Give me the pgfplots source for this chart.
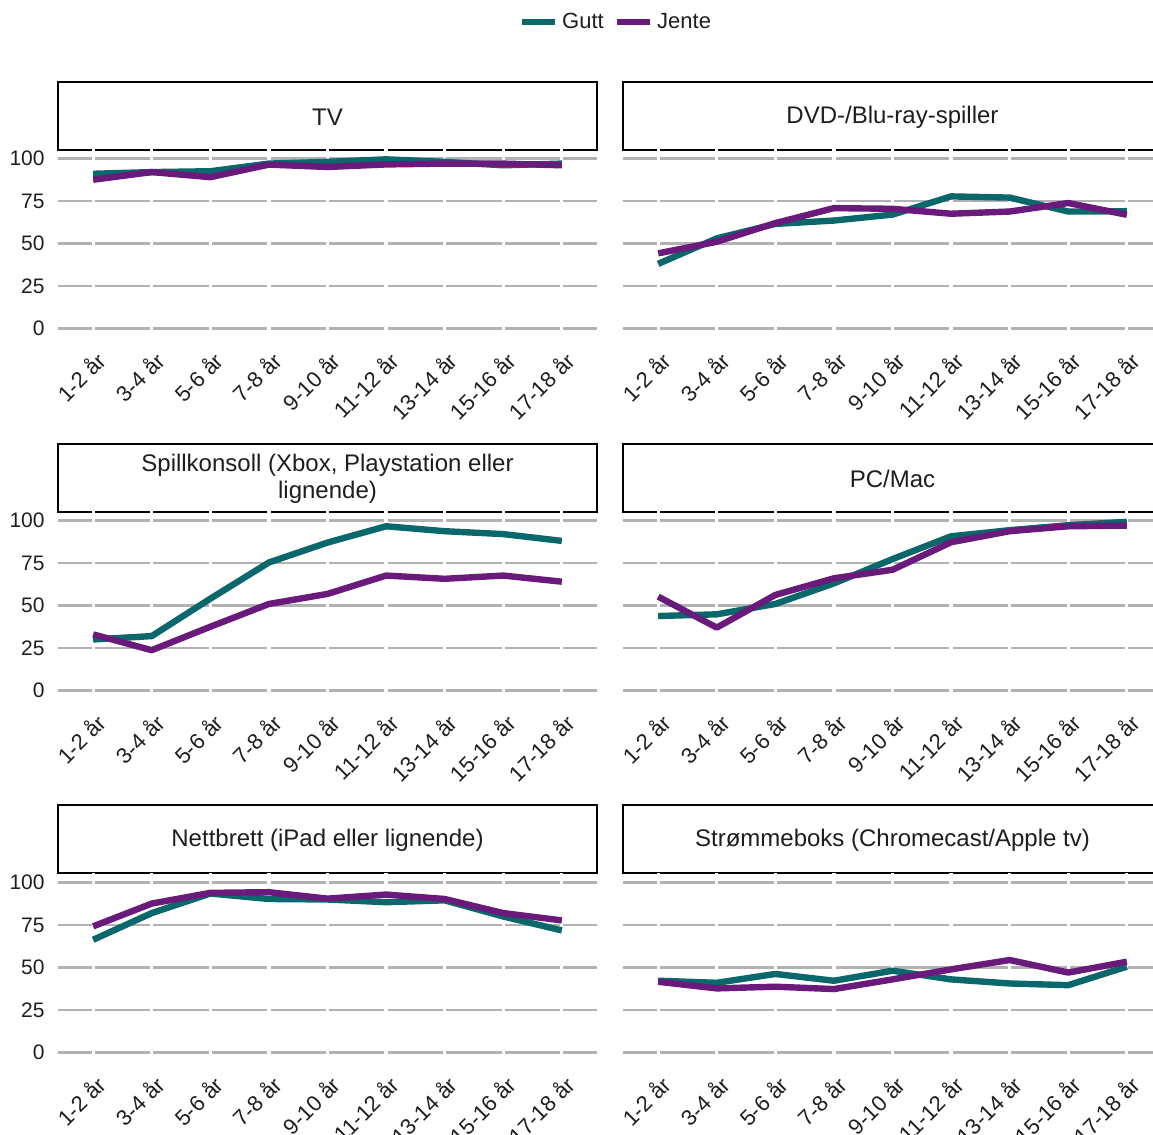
\documentclass[border=0pt]{standalone}
\usepackage{fontspec}
\setmainfont{Liberation Sans}
\usepackage{pgfplots}
\pgfplotsset{compat=1.18}
\definecolor{gutt}{RGB}{10,104,108}
\definecolor{jente}{RGB}{106,26,122}
\definecolor{gridgray}{RGB}{178,178,178}
\definecolor{txt}{RGB}{30,30,30}

\pgfplotsset{
  panel/.style={
    scale only axis,
    width=269.5pt, height=93.5pt,
    xmin=-0.6, xmax=8.6, ymin=-5, ymax=105,
    axis line style={draw=none},
    major tick length=0pt,
    xtick={0,...,8},
    xticklabels={1-2 år,3-4 år,5-6 år,7-8 år,9-10 år,11-12 år,13-14 år,15-16 år,17-18 år},
    ytick={0,25,50,75,100},
    ymajorgrids,
    major grid style={gridgray, line width=1.2pt},
    tick label style={font=\fontsize{10.5}{12}\selectfont, text=txt},
    xticklabel style={font=\fontsize{11}{12}\selectfont},
    /pgf/number format/assume math mode=true,
    yticklabel style={inner sep=0pt, xshift=-6.5pt},
    xticklabel style={inner sep=0pt, xshift=1pt, yshift=-6.5pt, rotate=45, anchor=north east},
    every axis plot/.append style={line width=3.2pt, line join=round, mark=none},
  },
  leftpanel/.style={panel},
  rightpanel/.style={panel, yticklabels={}},
}
% white gaps in the grid at each category
\newcommand{\vgaps}{\pgfplotsinvokeforeach{0,...,8}{\draw[white, line width=1.6pt] (axis cs:##1,-6) -- (axis cs:##1,106);}}
% strip header: left x, bottom y (image pixels), title
\newcommand{\strip}[3]{%
  \begin{scope}[x=0.5pt, y=0.5pt]
  \draw[black, line width=0.9pt, fill=white] (#1,1135-#2) rectangle ++(539,68);
  \node[font=\fontsize{12}{13.5}\selectfont, text=txt, align=center] at (#1+269.5,1135-#2+33) {#3};
  \end{scope}}

\begin{document}
\begin{tikzpicture}
\path[use as bounding box] (0pt,0pt) rectangle (576.5pt,567.5pt);

% row 1
\strip{58}{150}{TV}
\strip{623}{150}{DVD-/Blu-ray-spiller}
\begin{axis}[leftpanel, at={(29pt,399pt)}, anchor=south west,
  legend style={at={(1.037,1.684)}, anchor=center, draw=none, fill=none,
    legend columns=2, font=\fontsize{11}{12}\selectfont, text=txt,
    /tikz/every even column/.append style={column sep=3pt}},
  legend image code/.code={\draw[line width=3.2pt] (0pt,0pt) -- (16.5pt,0pt);}]
\vgaps
\addplot[gutt] coordinates {(0,91) (1,92) (2,92.5) (3,97) (4,98) (5,99.5) (6,98) (7,96) (8,97)};
\addlegendentry{Gutt}
\addplot[jente] coordinates {(0,87.5) (1,92) (2,89) (3,96.4) (4,95) (5,96.5) (6,97) (7,97) (8,96)};
\addlegendentry{Jente}
\end{axis}
\begin{axis}[rightpanel, at={(311.5pt,399pt)}, anchor=south west]
\vgaps
\addplot[gutt] coordinates {(0,38) (1,53) (2,61.5) (3,63.5) (4,67) (5,77.7) (6,77) (7,68.8) (8,69)};
\addplot[jente] coordinates {(0,44.2) (1,51) (2,62) (3,70.8) (4,70.4) (5,67.5) (6,68.8) (7,73.8) (8,66.9)};
\end{axis}

% row 2
\strip{58}{512}{Spillkonsoll (Xbox, Playstation eller\\lignende)}
\strip{623}{512}{PC/Mac}
\begin{axis}[leftpanel, at={(29pt,218pt)}, anchor=south west]
\vgaps
\addplot[gutt] coordinates {(0,30) (1,32) (2,54) (3,75.3) (4,87) (5,96.6) (6,93.7) (7,92) (8,88)};
\addplot[jente] coordinates {(0,33) (1,23.7) (2,37.5) (3,50.9) (4,56.8) (5,67.6) (6,65.7) (7,67.6) (8,64)};
\end{axis}
\begin{axis}[rightpanel, at={(311.5pt,218pt)}, anchor=south west]
\vgaps
\addplot[gutt] coordinates {(0,43.8) (1,44.8) (2,50.9) (3,63) (4,77.3) (5,90.7) (6,94.3) (7,97.2) (8,99.2)};
\addplot[jente] coordinates {(0,55.2) (1,37) (2,56.2) (3,66) (4,71) (5,87.2) (6,93.7) (7,96.6) (8,97)};
\end{axis}

% row 3
\strip{58}{873}{Nettbrett (iPad eller lignende)}
\strip{623}{873}{Strømmeboks (Chromecast/Apple tv)}
\begin{axis}[leftpanel, at={(29pt,37pt)}, anchor=south west]
\vgaps
\addplot[gutt] coordinates {(0,66.3) (1,82) (2,93.5) (3,90.3) (4,90) (5,88.4) (6,89.5) (7,80) (8,71.8)};
\addplot[jente] coordinates {(0,74.2) (1,87.6) (2,93.9) (3,94.3) (4,90.5) (5,92.9) (6,90.3) (7,82) (8,77.7)};
\end{axis}
\begin{axis}[rightpanel, at={(311.5pt,37pt)}, anchor=south west]
\vgaps
\addplot[gutt] coordinates {(0,42.2) (1,41) (2,46.2) (3,42.2) (4,48.1) (5,43) (6,40.6) (7,39.6) (8,50.5)};
\addplot[jente] coordinates {(0,41.6) (1,37.7) (2,38.7) (3,37.3) (4,43) (5,48.9) (6,54.4) (7,47) (8,53.4)};
\end{axis}
\end{tikzpicture}
\end{document}
